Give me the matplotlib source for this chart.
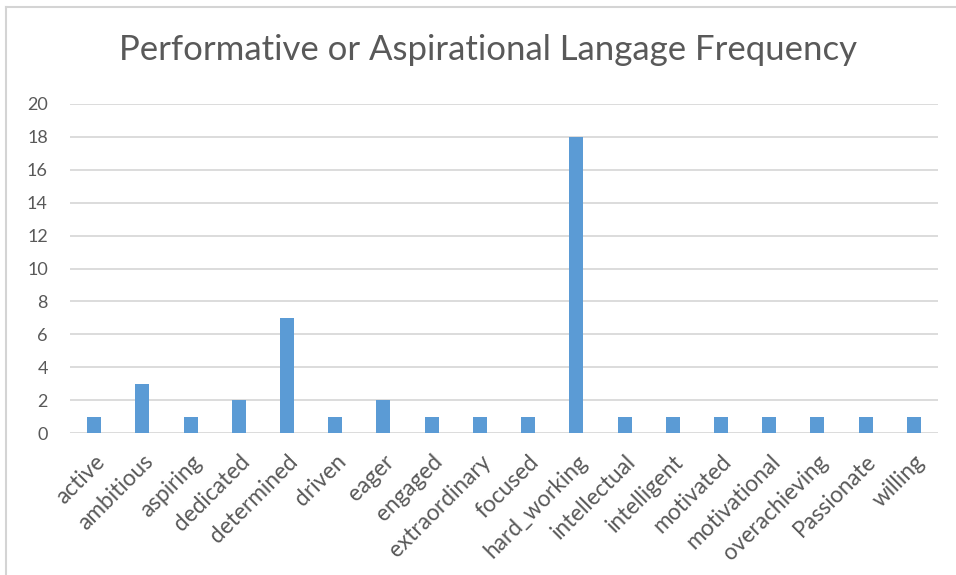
import matplotlib.pyplot as plt
from matplotlib.lines import Line2D
import numpy as np

words = ["active", "ambitious", "aspiring", "dedicated", "determined", "driven",
         "eager", "engaged", "extraordinary", "focused", "hard_working",
         "intellectual", "intelligent", "motivated", "motivational",
         "overachieving", "Passionate", "willing"]
counts = [1, 3, 1, 2, 7, 1, 2, 1, 1, 1, 18, 1, 1, 1, 1, 1, 1, 1]
yticks = [0, 2, 4, 6, 8, 10, 12, 14, 16, 18, 20]

plt.rcParams['font.family'] = ['Lato', 'DejaVu Sans']
grey = '#595959'

fig = plt.figure(figsize=(9.56, 5.75), dpi=100)
ax = fig.add_axes([70 / 956, 1 - 433 / 575, 868 / 956, 329 / 575])

x = np.arange(len(words))
ax.bar(x, counts, width=0.29, color='#5b9bd5', zorder=3)

ax.set_xlim(-0.5, len(words) - 0.5)
ax.set_ylim(0, 20)
ax.set_yticks(yticks)
ax.set_xticks(x)
ax.set_xticklabels(words, rotation=45, ha='right', rotation_mode='anchor',
                   fontsize=16.3, color=grey)
ax.tick_params(axis='y', labelsize=13, colors=grey, length=0, pad=16)
ax.tick_params(axis='x', length=0, pad=13)
ax.grid(axis='y', color='#d9d9d9', linewidth=1.3, zorder=0)
for s in ax.spines.values():
    s.set_visible(False)

fig.text(488 / 956, 1 - 50 / 575, "Performative or Aspirational Langage Frequency",
         ha='center', va='center', fontsize=25, color=grey)

# chart frame: only top and left edges fall inside the image
fig.add_artist(Line2D([6 / 956, 1], [1 - 7 / 575, 1 - 7 / 575],
                      transform=fig.transFigure, color='#d4d4d4', linewidth=1.5))
fig.add_artist(Line2D([6 / 956, 6 / 956], [0, 1 - 7 / 575],
                      transform=fig.transFigure, color='#d4d4d4', linewidth=1.5))

fig.savefig('out.png', dpi=100)
